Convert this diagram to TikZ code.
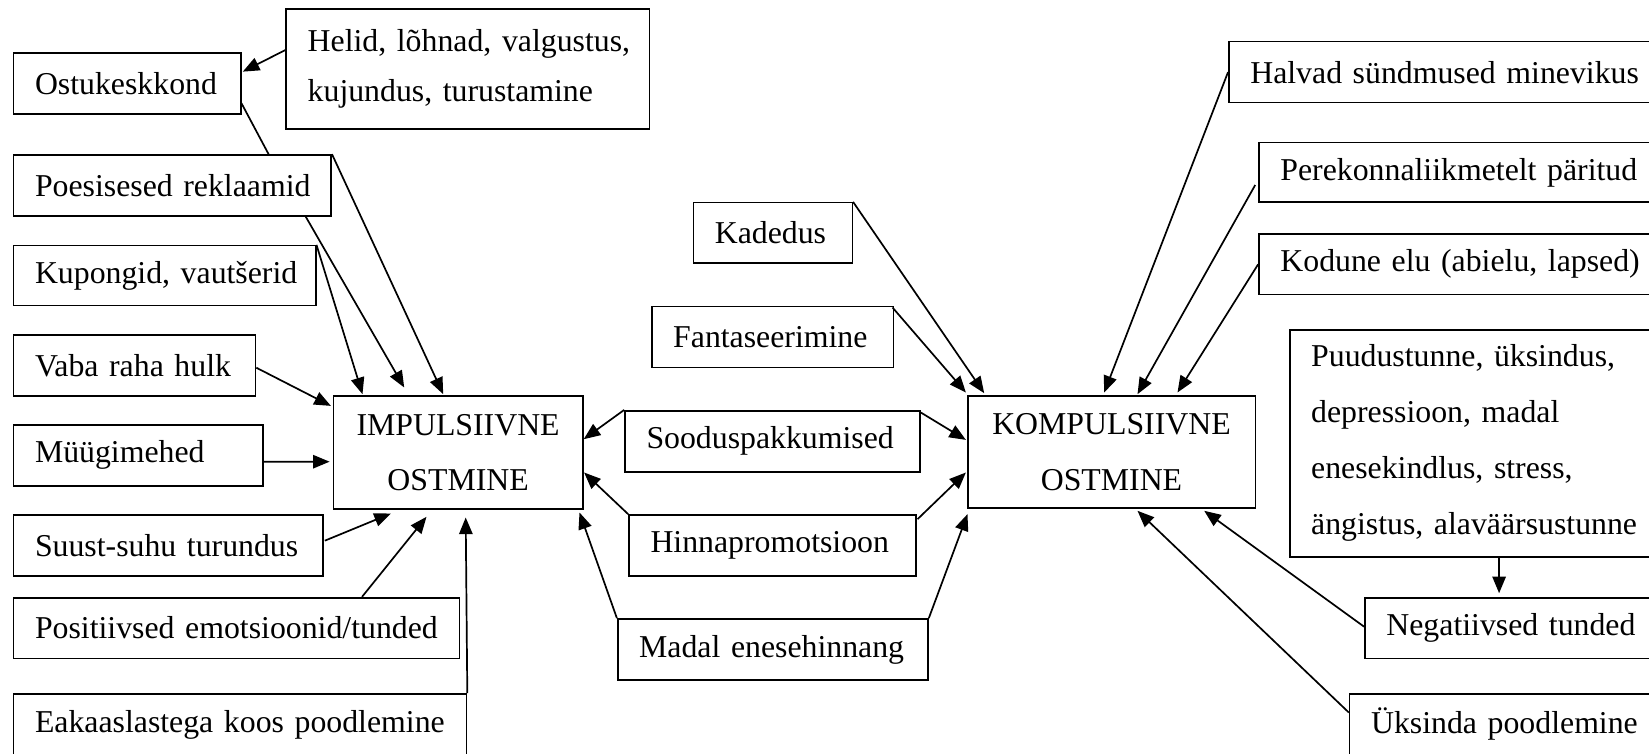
\documentclass[tikz,border=0pt]{standalone}
\usepackage{fontspec}
\setmainfont{Liberation Serif}
\usetikzlibrary{arrows.meta}
\tikzset{
  box/.style={draw, line width=0.8pt, fill=white, inner xsep=10.75pt, inner ysep=0pt,
    align=left, font=\fontsize{15.9}{21.5}\selectfont},
  cbox/.style={draw, line width=0.8pt, fill=white, inner xsep=0pt, inner ysep=0pt,
    align=center, font=\fontsize{15.9}{27.85}\selectfont},
  arr/.style={line width=0.85pt, -{Triangle[length=8.3pt,width=6.7pt]}},
  plain/.style={line width=0.85pt}
}
\begin{document}
\begin{tikzpicture}[x=0.5pt,y=-0.5pt]
\fill[white] (0,0) rectangle (1649,754);
\clip (0,0) rectangle (1649,754);
% left column
\node[box, minimum width=113.6pt, minimum height=30.35pt, text width=92.1pt] (ostuk) at (127.1,83.65) {\mbox{Ostukeskkond}};
\node[box, minimum width=181.6pt, minimum height=60pt, text width=160.1pt, font=\fontsize{15.9}{25.3}\selectfont] (helid) at (467.8,69) {\mbox{Helid, lõhnad, valgustus,}\\\mbox{kujundus, turustamine}};
\node[box, minimum width=158.85pt, minimum height=30.5pt, text width=137.35pt] (poes) at (172.35,185.5) {\mbox{Poesisesed reklaamid}};
\node[box, minimum width=151.1pt, minimum height=30pt, text width=129.6pt] (kup) at (164.6,275.7) {\mbox{Kupongid, vautšerid}};
\node[box, minimum width=121pt, minimum height=30.35pt, text width=99.5pt] (vaba) at (134.5,365.35) {\mbox{Vaba raha hulk}};
\node[box, minimum width=124.75pt, minimum height=30.35pt, text width=103.25pt] (myy) at (138.25,455.35) {\mbox{Müügimehed}};
\node[box, minimum width=154.85pt, minimum height=30.35pt, text width=133.35pt] (suust) at (168.35,545.35) {\mbox{Suust-suhu turundus}};
\node[box, minimum width=223.05pt, minimum height=30.3pt, text width=201.55pt] (posit) at (236.55,628) {\mbox{Positiivsed emotsioonid/tunded}};
\node[box, minimum width=226.5pt, minimum height=30.5pt, text width=205pt] (eak) at (240,724.5) {\mbox{Eakaaslastega koos poodlemine}};
% centre
\node[cbox, minimum width=124.8pt, minimum height=56.5pt] (imp) at (458.1,452.5) {IMPULSIIVNE\\OSTMINE};
\node[box, minimum width=79.5pt, minimum height=30.3pt, text width=58pt] (kad) at (772.8,233) {\mbox{Kadedus}};
\node[box, minimum width=120.8pt, minimum height=30.3pt, text width=99.3pt] (fant) at (772.5,337) {\mbox{Fantaseerimine}};
\node[box, minimum width=147.5pt, minimum height=30.5pt, text width=126pt] (sood) at (772.5,441.2) {\mbox{Sooduspakkumised}};
\node[box, minimum width=143.5pt, minimum height=30.35pt, text width=122pt] (hinna) at (772.5,545.35) {\mbox{Hinnapromotsioon}};
\node[box, minimum width=155.15pt, minimum height=30.5pt, text width=133.65pt] (madal) at (772.85,649.5) {\mbox{Madal enesehinnang}};
\node[cbox, minimum width=143.8pt, minimum height=56.15pt] (komp) at (1111.5,451.85) {KOMPULSIIVNE\\OSTMINE};
% right column
\node[box, minimum width=235.6pt, minimum height=30.5pt, text width=214.1pt] (halvad) at (1464.4,72.2) {\mbox{Halvad sündmused minevikus}};
\node[box, minimum width=220.55pt, minimum height=29.8pt, text width=199.05pt] (perek) at (1479.45,172.5) {\mbox{Perekonnaliikmetelt päritud}};
\node[box, minimum width=220.55pt, minimum height=30.35pt, text width=199.05pt] (kodune) at (1479.45,264.35) {\mbox{Kodune elu (abielu, lapsed)}};
\node[box, minimum width=205.15pt, minimum height=113.35pt, text width=183.65pt, font=\fontsize{15.9}{28}\selectfont] (puudus) at (1494.85,443.35) {\mbox{Puudustunne, üksindus,}\\\mbox{depressioon, madal}\\\mbox{enesekindlus, stress,}\\\mbox{ängistus, alaväärsustunne}};
\node[box, minimum width=167.55pt, minimum height=30.3pt, text width=146.05pt] (negat) at (1532.45,628) {\mbox{Negatiivsed tunded}};
\node[box, minimum width=175.2pt, minimum height=30.5pt, text width=153.7pt] (yks) at (1524.8,724.5) {\mbox{Üksinda poodlemine}};
% connectors, left
\draw[arr] ([shift={(0,-19)}]helid.west) -- ([shift={(1.3,-12)}]ostuk.east);
\draw[plain] ([shift={(0,19.65)}]ostuk.east) -- ([shift={(255.9,0)}]poes.north west);
\draw[arr] (poes.north east) -- ([shift={(110.7,-1)}]imp.north west);
\draw[arr] ([shift={(-26.2,0)}]poes.south east) -- ([shift={(71.7,-7.7)}]imp.north west);
\draw[arr] (kup.north east) -- ([shift={(30,-1)}]imp.north west);
\draw[arr] ([shift={(0,2.35)}]vaba.east) -- ([shift={(-1.6,10.7)}]imp.north west);
\draw[arr] ([shift={(0,6.35)}]myy.east) -- ([shift={(-2.9,9.2)}]imp.west);
\draw[arr] ([shift={(0.8,-4.65)}]suust.east) -- ([shift={(58.4,3.7)}]imp.south west);
\draw[arr] ([shift={(349.3,0)}]posit.north west) -- ([shift={(94,7)}]imp.south west);
\draw[arr] (eak.north east) -- ([shift={(133.2,7.7)}]imp.south west);
% connectors, centre
\draw[arr] (sood.north west) -- ([shift={(0,44)}]imp.north east);
\draw[arr] (hinna.north west) -- ([shift={(0.4,77.3)}]imp.north east);
\draw[arr] (madal.north west) -- ([shift={(-4.2,2.7)}]imp.south east);
\draw[arr] ([shift={(0,2.6)}]sood.north east) -- ([shift={(-1,45)}]komp.north west);
\draw[arr] ([shift={(0.7,5)}]hinna.north east) -- ([shift={(-1,77.6)}]komp.north west);
\draw[arr] (madal.north east) -- ([shift={(0.6,5.3)}]komp.south west);
\draw[arr] ([shift={(-1.6,1.6)}]fant.north east) -- ([shift={(-1,-2.4)}]komp.north west);
\draw[arr] (kad.north east) -- ([shift={(17.3,-1.7)}]komp.north west);
% connectors, right
\draw[arr] (halvad.west) -- ([shift={(137.3,-2.4)}]komp.north west);
\draw[arr] ([shift={(-2.9,12.5)}]perek.west) -- ([shift={(170.6,-0.7)}]komp.north west);
\draw[arr] (kodune.west) -- ([shift={(210.6,-2.4)}]komp.north west);
\draw[arr] ([shift={(210.2,0)}]puudus.south west) -- ([shift={(135,-3.7)}]negat.north west);
\draw[arr] ([shift={(0,-1.3)}]negat.west) -- ([shift={(237.3,2)}]komp.south west);
\draw[arr] ([shift={(0,19.3)}]yks.north west) -- ([shift={(170.6,2)}]komp.south west);
\end{tikzpicture}
\end{document}
